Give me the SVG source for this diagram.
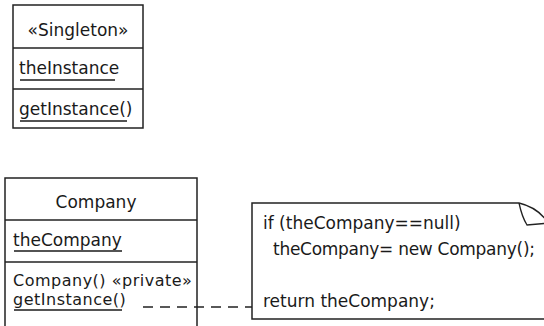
<svg xmlns="http://www.w3.org/2000/svg" width="544" height="326" viewBox="0 0 544 326">
<style>
.box{fill:#fff;stroke:#222;stroke-width:1.5}
.div{stroke:#222;stroke-width:1.5}
.t{font-family:"DejaVu Sans",sans-serif;font-size:17px;fill:#1a1a1a}
.s{font-size:16px;letter-spacing:0.5px}
.c{text-anchor:middle}
.u{stroke:#1a1a1a;stroke-width:1.3}
.dash{stroke:#222;stroke-width:1.3;fill:none;stroke-dasharray:10 7}
</style>
<rect width="544" height="326" fill="#fff"/>
<g id="singleton">
<rect class="box" x="13" y="5" width="130" height="123"/>
<line class="div" x1="13" y1="48" x2="143" y2="48"/>
<line class="div" x1="13" y1="89" x2="143" y2="89"/>
<text class="t c" x="78" y="36">«Singleton»</text>
<text class="t" x="19" y="74">theInstance</text>
<line class="u" x1="20" y1="80" x2="115" y2="80"/>
<text class="t" x="19" y="115">getInstance()</text>
<line class="u" x1="20" y1="121" x2="127" y2="121"/>
</g>
<g id="company">
<path class="box" d="M5,330 L5,178 L197,178 L197,330"/>
<line class="div" x1="5" y1="220" x2="197" y2="220"/>
<line class="div" x1="5" y1="262" x2="197" y2="262"/>
<text class="t c" x="96" y="208">Company</text>
<text class="t" x="13" y="246">theCompany</text>
<line class="u" x1="14" y1="251" x2="122" y2="251"/>
<text class="t s" x="13" y="286">Company() «private»</text>
<text class="t s" x="13" y="305">getInstance()</text>
<line class="u" x1="14" y1="310" x2="122" y2="310"/>
</g>
<g id="note">
<path class="box" d="M552,319 L252,319 L252,203 L519,203"/>
<path d="M519,203 Q540,208 550,226" fill="none" stroke="#222" stroke-width="1.3"/>
<path d="M519,203 Q522,217 527,225 L550,223" fill="none" stroke="#222" stroke-width="1.3"/>
<text class="t" x="263" y="229">if (theCompany==null)</text>
<text class="t" x="273" y="255" textLength="262" lengthAdjust="spacing">theCompany= new Company();</text>
<text class="t" x="263" y="307">return theCompany;</text>
</g>
<g id="connectors">
<line class="dash" x1="143" y1="307" x2="252" y2="307"/>
</g>
</svg>
